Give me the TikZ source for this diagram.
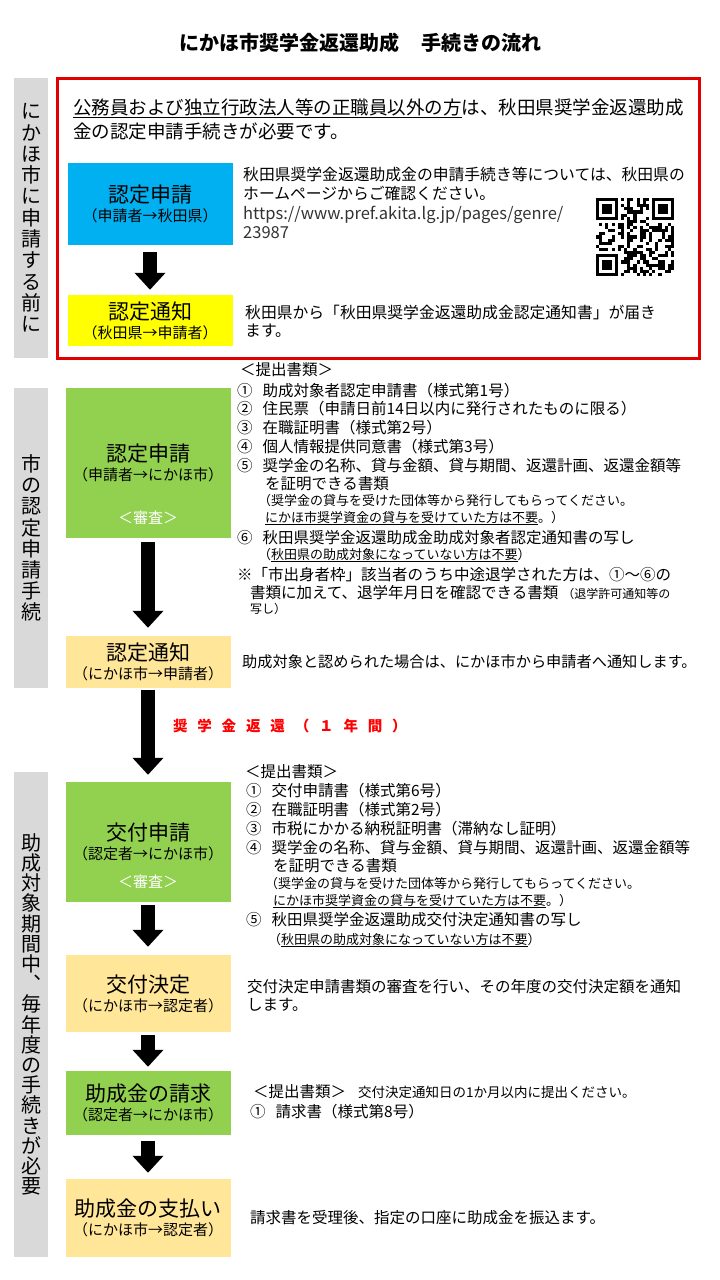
\documentclass[tikz,border=0pt]{standalone}
\usepackage{fontspec}
\setmainfont{Noto Sans CJK JP}
\usetikzlibrary{arrows.meta,positioning}

\definecolor{barGray}{HTML}{D9D9D9}
\definecolor{frameRed}{HTML}{E00000}
\definecolor{prefBlue}{HTML}{00B0F0}
\definecolor{noticeYellow}{HTML}{FFFF00}
\definecolor{applyGreen}{HTML}{92D050}
\definecolor{replyOrange}{HTML}{FFE699}
\definecolor{repayRed}{HTML}{FF0000}

\newcommand{\fsz}[1]{\fontsize{#1}{#1}\selectfont}

\begin{document}
\begin{tikzpicture}[x=1pt,y=-1pt,
    every node/.style={inner sep=0pt},
    sidebar/.style={fill=barGray, minimum width=34pt, align=center, font=\fontsize{20}{21.3}\selectfont},
    stepbox/.style={minimum width=165pt, align=center, font=\fsz{21}},
    review/.style={text=white, font=\fsz{15}},
    txt/.style={anchor=west, font=\fsz{15.5}},
    smalltxt/.style={anchor=west, font=\fsz{13}},
    bigarrow/.style={line width=14pt, -{Triangle[width=30pt,length=17pt]}}]
  \useasboundingbox (0,0) rectangle (720,1280);

  \node[font=\fsz{20}\bfseries] (title) at (360,43) {にかほ市奨学金返還助成\hspace{22pt}手続きの流れ};

  % side bars
  \node[sidebar, minimum height=280pt] (bar1) at (31,218) {に\\か\\ほ\\市\\に\\申\\請\\す\\る\\前\\に};
  \node[sidebar, minimum height=300pt, font=\fontsize{20}{21.1}\selectfont] (bar2) at (31,538) {市\\の\\認\\定\\申\\請\\手\\続};
  \node[sidebar, minimum height=485pt, font=\fontsize{20}{20.2}\selectfont] (bar3) at (31,1014.5) {助\\成\\対\\象\\期\\間\\中\\︑\\毎\\年\\度\\の\\手\\続\\き\\が\\必\\要};

  % before applying to the city
  \draw[frameRed, line width=3pt] (57,78) rectangle (699,358);
  \node[txt, font=\fsz{18.5}] (intro1) at (73,108) {\underline{公務員および独立行政法人等の正職員以外の方}は、秋田県奨学金返還助成};
  \node[txt, font=\fsz{18.5}] (intro2) at (73,131) {金の認定申請手続きが必要です。};

  \node[stepbox, fill=prefBlue, minimum height=82pt] (prefApply) at (150,204)
    {認定申請\\[-2pt]{\fsz{15}（申請者→秋田県）}};
  \node[stepbox, fill=noticeYellow, minimum height=51pt] (prefNotice) at (150,320.5)
    {認定通知\\[-2pt]{\fsz{15}（秋田県→申請者）}};
  \draw[bigarrow, shorten <=7pt, shorten >=5pt] (prefApply) -- (prefNotice);

  \node[txt, font=\fsz{15.8}] (prefInfo1) at (243,175) {秋田県奨学金返還助成金の申請手続き等については、秋田県の};
  \node[txt, font=\fsz{15.8}] (prefInfo2) at (243,193) {ホームページからご確認ください。};
  \node[txt, font=\fsz{16.5}, text=black!80] (prefUrl1) at (243,215) {https://www.pref.akita.lg.jp/pages/genre/};
  \node[txt, font=\fsz{16.5}, text=black!80] (prefUrl2) at (243,233) {23987};
  \node[txt, font=\fsz{15.8}] (prefNote1) at (245,312) {秋田県から「秋田県奨学金返還助成金認定通知書」が届き};
  \node[txt, font=\fsz{15.8}] (prefNote2) at (245,331) {ます。};

  % qr code
  \pgfmathsetseed{20}
  \foreach \i in {0,...,24}
    \foreach \j in {0,...,24}{
      \pgfmathtruncatemacro{\qbit}{rnd<0.45}
      \ifnum\qbit=1 \fill (596+\i*3.12,198+\j*3.12) rectangle ++(3.12,3.12); \fi
    }
  \foreach \fx/\fy/\sx/\sy in {0/0/0/0, 18/0/17/0, 0/18/0/17}{
    \fill[white] (596+\sx*3.12,198+\sy*3.12) rectangle ++(24.96,24.96);
    \fill (596+\fx*3.12,198+\fy*3.12) rectangle ++(21.84,21.84);
    \fill[white] (599.12+\fx*3.12,201.12+\fy*3.12) rectangle ++(15.6,15.6);
    \fill (602.24+\fx*3.12,204.24+\fy*3.12) rectangle ++(9.36,9.36);
  }

  % city certification
  \node[stepbox, fill=applyGreen, minimum height=150pt] (cityApply) at (148,463)
    {認定申請\\[-2pt]{\fsz{15}（申請者→にかほ市）}};
  \node[review] (review1) at ([yshift=20pt]cityApply.south) {＜審査＞};
  \node[stepbox, fill=replyOrange, minimum height=52pt] (cityNotice) at (148,662)
    {認定通知\\[-2pt]{\fsz{15}（にかほ市→申請者）}};
  \draw[bigarrow, shorten <=4pt, shorten >=8pt] (cityApply) -- (cityNotice);

  \node[txt] (docsHead) at (240,370) {＜提出書類＞};
  \node[txt] (doc1) at (237,391) {①\hspace{10pt}助成対象者認定申請書（様式第1号）};
  \node[txt] (doc2) at (237,409) {②\hspace{10pt}住民票（申請日前14日以内に発行されたものに限る）};
  \node[txt] (doc3) at (237,428) {③\hspace{10pt}在職証明書（様式第2号）};
  \node[txt] (doc4) at (237,447) {④\hspace{10pt}個人情報提供同意書（様式第3号）};
  \node[txt] (doc5) at (237,466) {⑤\hspace{10pt}奨学金の名称、貸与金額、貸与期間、返還計画、返還金額等};
  \node[txt] (doc5b) at (265,484) {を証明できる書類};
  \node[smalltxt] (doc5n1) at (258,501) {（奨学金の貸与を受けた団体等から発行してもらってください。};
  \node[smalltxt] (doc5n2) at (265,518) {\underline{にかほ市奨学資金の貸与を受けていた方は不要}。）};
  \node[txt] (doc6) at (237,538) {⑥\hspace{10pt}秋田県奨学金返還助成金助成対象者認定通知書の写し};
  \node[smalltxt] (doc6n) at (258,555) {（\underline{秋田県の助成対象になっていない方は不要}）};
  \node[txt] (drop1) at (237,575) {※「市出身者枠」該当者のうち中途退学された方は、①～⑥の};
  \node[txt] (drop2) at (250,593) {書類に加えて、退学年月日を確認できる書類\hspace{4pt}{\fsz{12}（退学許可通知等の}};
  \node[smalltxt, font=\fsz{12}] (drop3) at (250,609) {写し）};
  \node[txt, font=\fsz{15.2}] (cityNoteText) at (242,662) {助成対象と認められた場合は、にかほ市から申請者へ通知します。};

  % yearly grant
  \node[stepbox, fill=applyGreen, minimum height=120pt] (grantApply) at (148,842)
    {交付申請\\[-2pt]{\fsz{15}（認定者→にかほ市）}};
  \node[review] (review2) at ([yshift=20pt]grantApply.south) {＜審査＞};
  \draw[bigarrow, shorten <=2pt, shorten >=7pt] (cityNotice) --
    node[pos=.4, anchor=west, xshift=18pt, text=repayRed, font=\fsz{14.5}\bfseries\addfontfeature{LetterSpace=68}] (repayNote)
    {奨学金返還（１年間）} (grantApply);

  \node[txt] (grantHead) at (245,772) {＜提出書類＞};
  \node[txt] (grant1) at (246,791) {①\hspace{10pt}交付申請書（様式第6号）};
  \node[txt] (grant2) at (246,810) {②\hspace{10pt}在職証明書（様式第2号）};
  \node[txt] (grant3) at (246,829) {③\hspace{10pt}市税にかかる納税証明書（滞納なし証明）};
  \node[txt] (grant4) at (246,848) {④\hspace{10pt}奨学金の名称、貸与金額、貸与期間、返還計画、返還金額等};
  \node[txt] (grant4b) at (273,866) {を証明できる書類};
  \node[smalltxt] (grant4n1) at (265,884) {（奨学金の貸与を受けた団体等から発行してもらってください。};
  \node[smalltxt] (grant4n2) at (273,901) {\underline{にかほ市奨学資金の貸与を受けていた方は不要}。）};
  \node[txt] (grant5) at (246,920) {⑤\hspace{10pt}秋田県奨学金返還助成交付決定通知書の写し};
  \node[smalltxt] (grant5n) at (268,940) {（\underline{秋田県の助成対象になっていない方は不要}）};

  \node[stepbox, fill=replyOrange, minimum height=77pt] (grantDecide) at (148,993.5)
    {交付決定\\[-2pt]{\fsz{15}（にかほ市→認定者）}};
  \draw[bigarrow, shorten <=3pt, shorten >=8pt] (grantApply) -- (grantDecide);
  \node[txt] (decideText1) at (247,987) {交付決定申請書類の審査を行い、その年度の交付決定額を通知};
  \node[txt] (decideText2) at (247,1005) {します。};

  \node[stepbox, fill=applyGreen, minimum height=64pt] (claim) at (148,1103)
    {助成金の請求\\[-2pt]{\fsz{15}（認定者→にかほ市）}};
  \draw[bigarrow, shorten <=3pt, shorten >=4pt] (grantDecide) -- (claim);
  \node[txt] (claimHead) at (253,1092) {＜提出書類＞\hspace{12pt}{\fsz{13.5}交付決定通知日の1か月以内に提出ください。}};
  \node[txt] (claim1) at (250,1112) {①\hspace{10pt}請求書（様式第8号）};

  \node[stepbox, fill=replyOrange, minimum height=78pt] (payment) at (148,1218)
    {助成金の支払い\\[-2pt]{\fsz{15}（にかほ市→認定者）}};
  \draw[bigarrow, shorten <=6pt, shorten >=6pt] (claim) -- (payment);
  \node[txt] (payText) at (250,1218) {請求書を受理後、指定の口座に助成金を振込ます。};
\end{tikzpicture}
\end{document}
